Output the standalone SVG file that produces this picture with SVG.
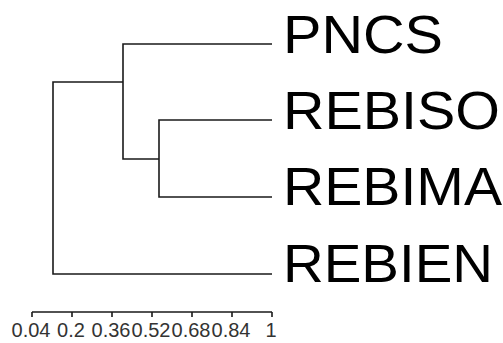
<svg xmlns="http://www.w3.org/2000/svg" width="503" height="343" viewBox="0 0 503 343">
<style>
.leaf{font-family:"Liberation Sans",Arial,sans-serif;font-size:54px;fill:#000}
.tick{font-family:"Liberation Sans",Arial,sans-serif;font-size:20px;fill:#333;text-anchor:middle}
.ln{stroke:#1a1a1a;stroke-width:1.6;fill:none}
</style>
<rect width="503" height="343" fill="#fff"/>
<g id="connectors">
<polyline class="ln" points="272,44 123,44 123,159 159,159"/>
<polyline class="ln" points="272,120 159,120 159,197 272,197"/>
<polyline class="ln" points="123,82 53,82 53,274 272,274"/>
</g>
<g id="node-PNCS"><text class="leaf" x="283" y="52.5" textLength="160" lengthAdjust="spacingAndGlyphs">PNCS</text></g>
<g id="node-REBISO"><text class="leaf" x="283" y="128.5" textLength="217" lengthAdjust="spacingAndGlyphs">REBISO</text></g>
<g id="node-REBIMA"><text class="leaf" x="283" y="204.5" textLength="219" lengthAdjust="spacingAndGlyphs">REBIMA</text></g>
<g id="node-REBIEN"><text class="leaf" x="283" y="281.5" textLength="210" lengthAdjust="spacingAndGlyphs">REBIEN</text></g>
<g id="axis">
<path class="ln" stroke-width="1.2" d="M32,312H272M32,312v5M72,312v5M112,312v5M152,312v5M192,312v5M232,312v5M272,312v5"/>
<text class="tick" x="31" y="336.7">0.04</text>
<text class="tick" x="71" y="336.7">0.2</text>
<text class="tick" x="111" y="336.7">0.36</text>
<text class="tick" x="151" y="336.7">0.52</text>
<text class="tick" x="191" y="336.7">0.68</text>
<text class="tick" x="231" y="336.7">0.84</text>
<text class="tick" x="271" y="336.7">1</text>
</g>
</svg>
